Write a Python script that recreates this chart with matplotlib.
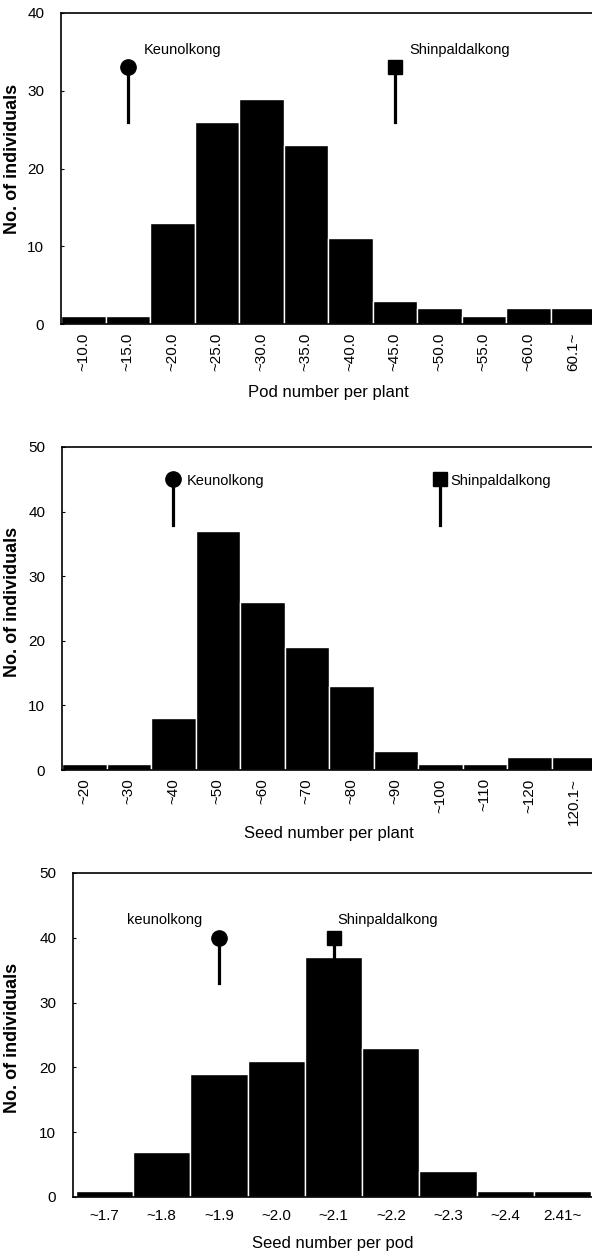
import matplotlib
matplotlib.use("Agg")
import matplotlib.pyplot as plt

plt.rcParams['font.family'] = ['Liberation Sans', 'DejaVu Sans']

# panel 1: pod number per plant
pod_labels = ['~10.0', '~15.0', '~20.0', '~25.0', '~30.0', '~35.0', '~40.0',
              '~45.0', '~50.0', '~55.0', '~60.0', '60.1~']
pod_counts = [1, 1, 13, 26, 29, 23, 11, 3, 2, 1, 2, 2]

# panel 2: seed number per plant
seed_plant_labels = ['~20', '~30', '~40', '~50', '~60', '~70', '~80', '~90',
                     '~100', '~110', '~120', '120.1~']
seed_plant_counts = [1, 1, 8, 37, 26, 19, 13, 3, 1, 1, 2, 2]

# panel 3: seed number per pod
seed_pod_labels = ['~1.7', '~1.8', '~1.9', '~2.0', '~2.1', '~2.2', '~2.3',
                   '~2.4', '2.41~']
seed_pod_counts = [1, 7, 19, 21, 37, 23, 4, 1, 1]

# parent cultivar markers: (bin index, marker y, stem bottom)
keun_pos = [(1, 33, 26), (2, 45, 38), (2, 40, 33)]
shin_pos = [(7, 33, 26), (8, 45, 38), (4, 40, 37)]

W, H = 592, 1258
fig = plt.figure(figsize=(W / 100, H / 100), dpi=100)


def add_ax(left, top, right, bottom):
    return fig.add_axes([left / W, 1 - bottom / H, (right - left) / W, (bottom - top) / H])


panels = [
    dict(box=(61, 13, 595, 324), labels=pod_labels, counts=pod_counts, ymax=40,
         xlabel='Pod number per plant', rot=90, xlim=(-0.5, 11.5),
         ylab_y=0.53, xlab_y=-0.196,
         keun_txt=('Keunolkong', 1.35, 35.2, 'left'),
         shin_txt=('Shinpaldalkong', 7.33, 35.2, 'left')),
    dict(box=(62, 447, 596, 770), labels=seed_plant_labels, counts=seed_plant_counts,
         ymax=50, xlabel='Seed number per plant', rot=90, xlim=(-0.5, 11.5),
         ylab_y=0.52, xlab_y=-0.172,
         keun_txt=('Keunolkong', 2.3, 44.7, 'left'),
         shin_txt=('Shinpaldalkong', 8.22, 44.7, 'left')),
    dict(box=(73, 873, 593, 1197), labels=seed_pod_labels, counts=seed_pod_counts,
         ymax=50, xlabel='Seed number per pod', rot=0, xlim=(-0.55, 8.53),
         ylab_y=0.49, xlab_y=-0.12,
         keun_txt=('keunolkong', 1.05, 42.7, 'center'),
         shin_txt=('Shinpaldalkong', 4.95, 42.7, 'center')),
]

for i, p in enumerate(panels):
    ax = add_ax(*p['box'])
    left, top, right, bottom = p['box']
    x = list(range(len(p['counts'])))
    ax.bar(x, p['counts'], width=1.0, color='black', edgecolor='white', linewidth=1.0)
    ax.set_xlim(*p['xlim'])
    ax.set_ylim(0, p['ymax'])
    ax.set_yticks(range(0, p['ymax'] + 1, 10))
    ax.set_xticks(x)
    ax.set_xticklabels(p['labels'], rotation=p['rot'], fontsize=11)
    ax.tick_params(axis='x', length=0, pad=6 if p['rot'] else 9)
    ax.tick_params(axis='y', length=2, direction='in', labelsize=11, pad=12)
    ax.spines['right'].set_visible(False)
    for s in ['left', 'top', 'bottom']:
        ax.spines[s].set_linewidth(1.2)
    ax.set_ylabel('No. of individuals', fontsize=13, fontweight='bold')
    ax.yaxis.set_label_coords((21 - left) / (right - left), p['ylab_y'])
    ax.set_xlabel(p['xlabel'], fontsize=12)
    ax.xaxis.set_label_coords(0.5, p['xlab_y'])

    kx, ky, kb = keun_pos[i]
    sx, sy, sb = shin_pos[i]
    ax.plot([kx, kx], [kb, ky], color='black', linewidth=2.3)
    ax.plot([kx], [ky], marker='o', markersize=11, color='black')
    ax.plot([sx, sx], [sb, sy], color='black', linewidth=2.3)
    ax.plot([sx], [sy], marker='s', markersize=9.5, color='black')

    for txt, tx, ty, ha in (p['keun_txt'], p['shin_txt']):
        ax.text(tx, ty, txt, fontsize=10.5, ha=ha, va='center')

fig.savefig('out.png', dpi=100)
